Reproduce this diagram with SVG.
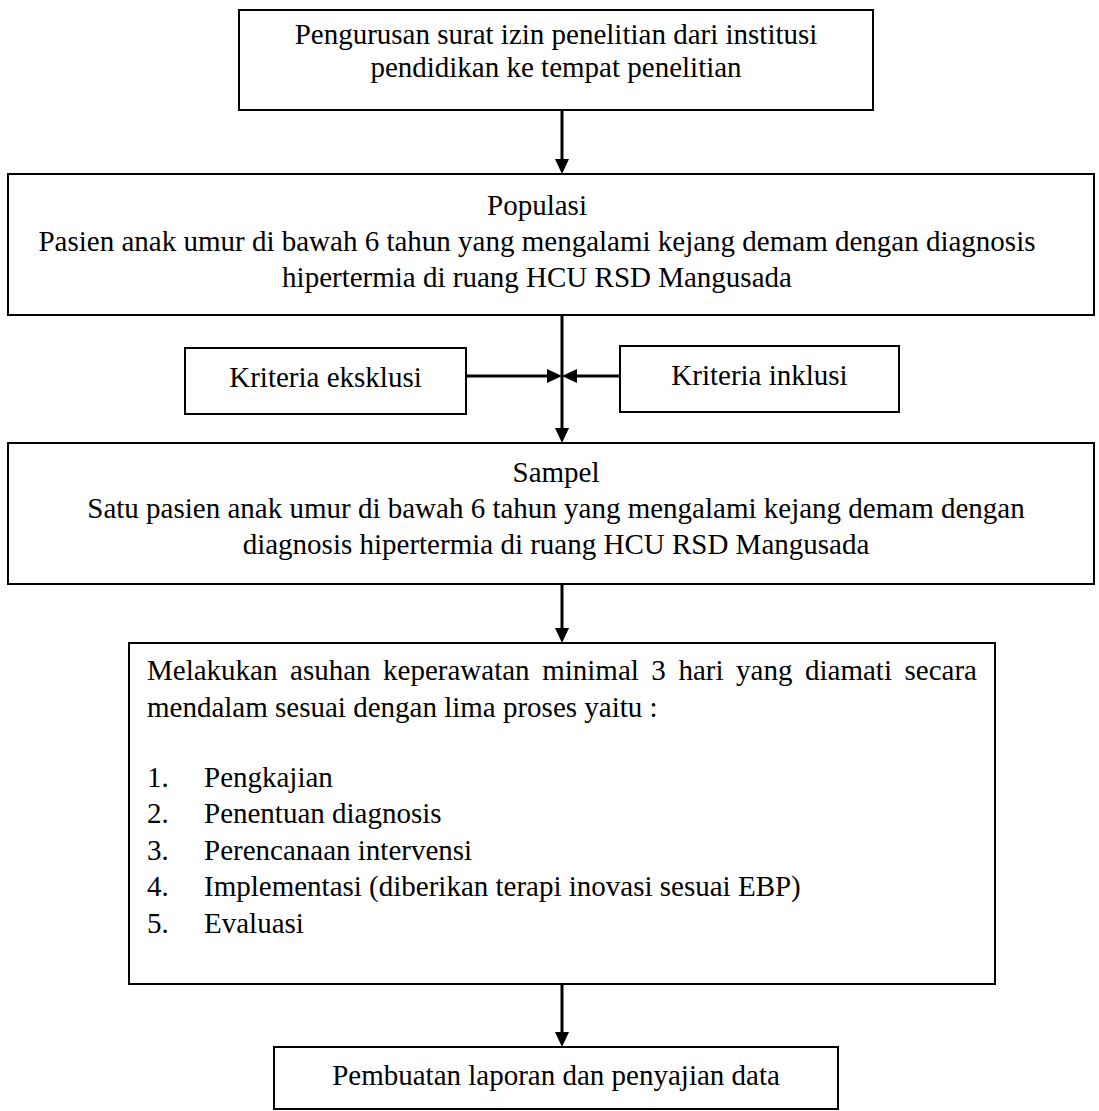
<svg xmlns="http://www.w3.org/2000/svg" width="1099" height="1111" viewBox="0 0 1099 1111">
<defs>
<style>
.box{fill:#fff;stroke:#000;stroke-width:2}
.t{font-family:"Liberation Serif","Times New Roman",serif;font-size:29px;fill:#000}
.c{text-anchor:middle}
.conn{stroke:#000;stroke-width:3;fill:none}
</style>
<marker id="ah" markerUnits="userSpaceOnUse" markerWidth="15" markerHeight="16" viewBox="0 0 15 16" refX="0" refY="8" orient="auto"><path d="M0,1 L15,8 L0,15 z" fill="#000"/></marker>
</defs>
<rect width="1099" height="1111" fill="#fff"/>
<g id="connectors">
<path class="conn" d="M562,111 V159" marker-end="url(#ah)"/>
<path class="conn" d="M562,316 V428" marker-end="url(#ah)"/>
<path class="conn" d="M467,376 H547" marker-end="url(#ah)"/>
<path class="conn" d="M620,376 H577" marker-end="url(#ah)"/>
<path class="conn" d="M562,585 V628" marker-end="url(#ah)"/>
<path class="conn" d="M562,985 V1032" marker-end="url(#ah)"/>
</g>
<g id="n1">
<rect class="box" x="239" y="10" width="634" height="100"/>
<text class="t c" x="556" y="44">Pengurusan surat izin penelitian dari institusi</text>
<text class="t c" x="556" y="77">pendidikan ke tempat penelitian</text>
</g>
<g id="n2">
<rect class="box" x="8" y="174" width="1086" height="141"/>
<text class="t c" x="537" y="215">Populasi</text>
<text class="t c" x="537" y="251">Pasien anak umur di bawah 6 tahun yang mengalami kejang demam dengan diagnosis</text>
<text class="t c" x="537" y="287">hipertermia di ruang HCU RSD Mangusada</text>
</g>
<g id="n3">
<rect class="box" x="185" y="348" width="281" height="66"/>
<text class="t c" x="325.5" y="387">Kriteria eksklusi</text>
</g>
<g id="n4">
<rect class="box" x="620" y="346" width="279" height="66"/>
<text class="t c" x="759.5" y="385">Kriteria inklusi</text>
</g>
<g id="n5">
<rect class="box" x="8" y="443" width="1086" height="141"/>
<text class="t c" x="556" y="482">Sampel</text>
<text class="t c" x="556" y="518">Satu pasien anak umur di bawah 6 tahun yang mengalami kejang demam dengan</text>
<text class="t c" x="556" y="554">diagnosis hipertermia di ruang HCU RSD Mangusada</text>
</g>
<g id="n6">
<rect class="box" x="129" y="643" width="866" height="341"/>
<text class="t" x="147" y="680" word-spacing="5.3">Melakukan asuhan keperawatan minimal 3 hari yang diamati secara</text>
<text class="t" x="147" y="716.5">mendalam sesuai dengan lima proses yaitu :</text>
<text class="t" x="147" y="786.5">1.</text><text class="t" x="204" y="786.5">Pengkajian</text>
<text class="t" x="147" y="823">2.</text><text class="t" x="204" y="823">Penentuan diagnosis</text>
<text class="t" x="147" y="859.5">3.</text><text class="t" x="204" y="859.5">Perencanaan intervensi</text>
<text class="t" x="147" y="896">4.</text><text class="t" x="204" y="896">Implementasi (diberikan terapi inovasi sesuai EBP)</text>
<text class="t" x="147" y="932.5">5.</text><text class="t" x="204" y="932.5">Evaluasi</text>
</g>
<g id="n7">
<rect class="box" x="274" y="1047" width="564" height="62"/>
<text class="t c" x="556" y="1085">Pembuatan laporan dan penyajian data</text>
</g>
</svg>
